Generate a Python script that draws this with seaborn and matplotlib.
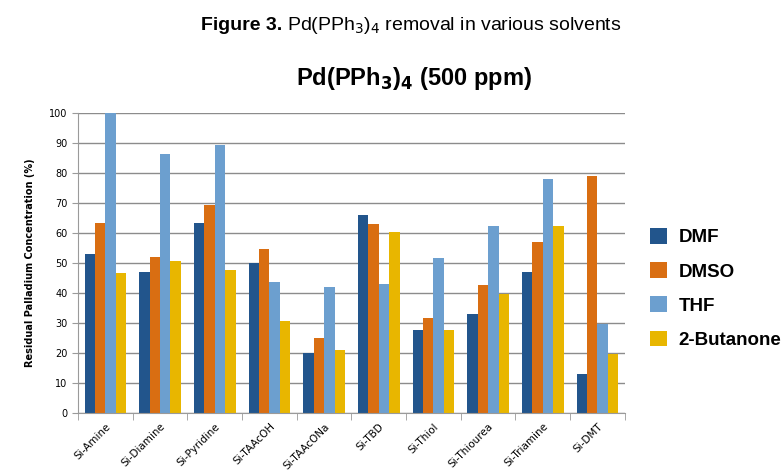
import pandas as pd
import numpy as np
import matplotlib
matplotlib.use("Agg")
import matplotlib.pyplot as plt
import seaborn as sns

scavengers = ["Si-Amine", "Si-Diamine", "Si-Pyridine", "Si-TAAcOH", "Si-TAAcONa",
              "Si-TBD", "Si-Thiol", "Si-Thiourea", "Si-Triamine", "Si-DMT"]
solvents = ["DMF", "DMSO", "THF", "2-Butanone"]
dmf = [53, 47, 63.5, 50, 20, 66, 27.5, 33, 47, 13]
dmso = [63.5, 52, 69.5, 54.5, 25, 63, 31.5, 42.5, 57, 79]
thf = [100, 86.5, 89.3, 43.5, 42, 43, 51.5, 62.5, 78, 29.5]
butanone = [46.5, 50.5, 47.5, 30.5, 21, 60.5, 27.5, 39.5, 62.5, 19.5]
colors = ["#22558C", "#D96E12", "#6C9FCF", "#E8B600"]

df = pd.DataFrame({"scavenger": scavengers * 4,
                   "solvent": np.repeat(solvents, len(scavengers)),
                   "value": dmf + dmso + thf + butanone})

sns.set_style("white")
plt.rcParams["font.family"] = ["Liberation Sans", "DejaVu Sans"]
plt.rcParams["text.color"] = "black"
plt.rcParams["axes.labelcolor"] = "black"
plt.rcParams["xtick.color"] = "black"
plt.rcParams["ytick.color"] = "black"

fig = plt.figure(figsize=(7.81, 4.73), dpi=100)
ax = fig.add_axes([0.1, 0.127, 0.7, 0.634])

sns.barplot(data=df, x="scavenger", y="value", hue="solvent", hue_order=solvents,
            palette=colors, width=0.76, saturation=1, ax=ax, legend=True,
            edgecolor="none", linewidth=0)

ax.set_ylim(0, 100)
ax.set_xlim(-0.5, 9.5)
ax.set_yticks(range(0, 101, 10))
ax.yaxis.grid(True, color="#8c8c8c", linewidth=1)
ax.set_axisbelow(True)
for s in ["top", "right"]:
    ax.spines[s].set_visible(False)
ax.spines["left"].set_color("#9a9a9a")
ax.spines["bottom"].set_color("#9a9a9a")

ax.tick_params(axis="y", labelsize=7, length=4, color="#9a9a9a", left=True,
               labelfontfamily="DejaVu Sans")
ax.set_xticks(range(10))
ax.set_xticklabels(scavengers, rotation=45, ha="right", rotation_mode="anchor",
                   fontsize=7.5, fontfamily="DejaVu Sans")
ax.tick_params(axis="x", length=0, pad=6)
ax.set_xticks(np.arange(-0.5, 10, 1), minor=True)
ax.tick_params(axis="x", which="minor", length=5, color="#9a9a9a", bottom=True)

ax.set_xlabel("")
ax.set_ylabel("Residual Palladium Concentration (%)", fontsize=7, fontweight="bold",
              fontfamily="DejaVu Sans", labelpad=10)

leg = ax.legend(loc="center left", bbox_to_anchor=(1.016, 0.415), frameon=False,
                fontsize=13.5, handlelength=0.9, handleheight=0.9,
                labelspacing=0.85, handletextpad=0.6)
for t in leg.get_texts():
    t.set_fontweight("bold")

fig.text(0.362, 0.947, "Figure 3.", ha="right", va="center", fontsize=14, fontweight="bold")
fig.text(0.368, 0.947, r"Pd(PPh$_3$)$_4$ removal in various solvents", ha="left",
         va="center", fontsize=14)
fig.text(0.53, 0.835, r"Pd(PPh$_\mathbf{3}$)$_\mathbf{4}$ (500 ppm)", ha="center",
         va="center", fontsize=17, fontweight="bold")

plt.savefig("out.png", dpi=100)
plt.close()
